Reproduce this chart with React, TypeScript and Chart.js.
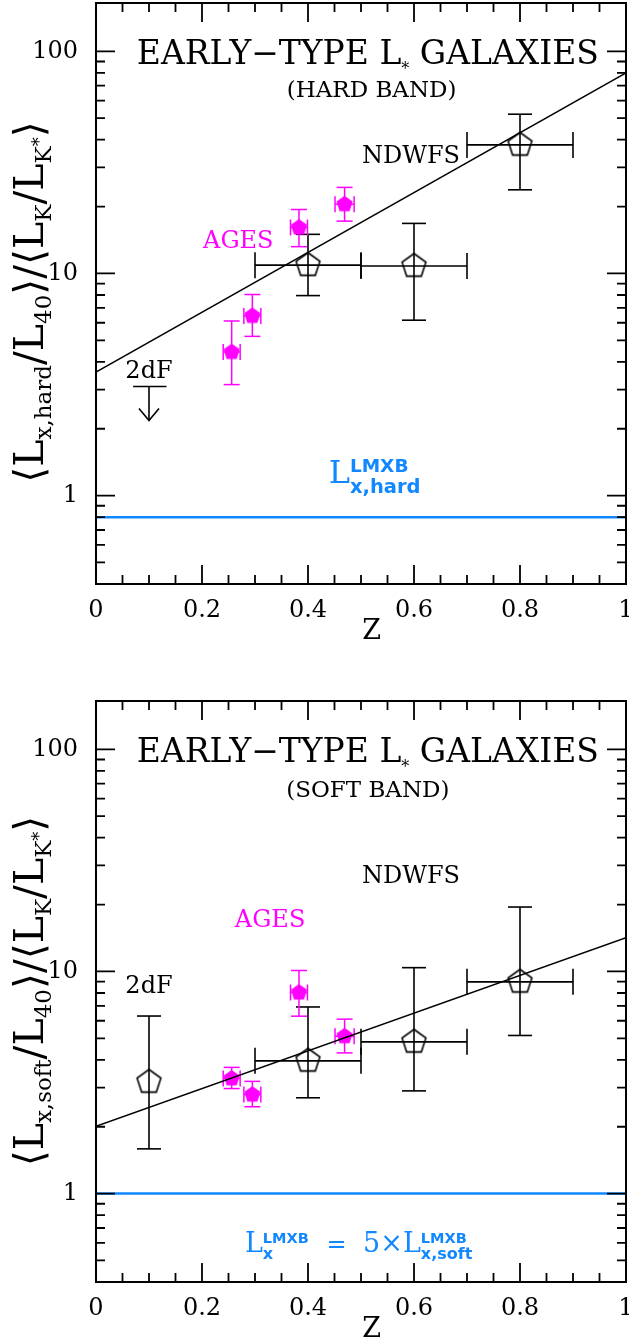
import React, { useEffect, useRef } from "react";
import { Chart, registerables } from "chart.js";

Chart.register(...registerables);

// ---- shared axes -------------------------------------------------------
const Z_MIN = 0;
const Z_MAX = 1;
const RATIO_MIN = 0.4;
const RATIO_MAX = 165;
const Z_TICKS = [0, 0.2, 0.4, 0.6, 0.8, 1];
const Z_TICK_LABELS = ["0", "0.2", "0.4", "0.6", "0.8", "1"];
const RATIO_TICKS = [1, 10, 100];
const RATIO_TICK_LABELS = ["1", "10", "100"];

// ---- AGES redshift bins (both bands) -----------------------------------
const agesZ = [0.256, 0.295, 0.383, 0.469];
const agesZErr = [0.016, 0.016, 0.016, 0.018];

// ---- hard band ---------------------------------------------------------
const hardNdwfsZ = [0.4, 0.6, 0.8];
const hardNdwfsZLow = [0.3, 0.5, 0.7];
const hardNdwfsZHigh = [0.5, 0.7, 0.9];
const hardNdwfsRatio = [10.9, 10.8, 37.9];
const hardNdwfsLow = [7.95, 6.16, 23.8];
const hardNdwfsHigh = [15.0, 16.8, 52.1];

const hardAgesRatio = [4.43, 6.44, 16.1, 20.5];
const hardAgesLow = [3.16, 5.21, 13.2, 17.2];
const hardAgesHigh = [6.11, 8.04, 19.4, 24.4];

// 2dF upper limit in the hard band
const hard2dfZ = [0.1];
const hard2dfZLow = [0.07];
const hard2dfZHigh = [0.133];
const hard2dfLimit = [3.1];
const hard2dfArrowEnd = [2.18];

const fitZ = [0, 1];
const hardFitRatio = [3.6, 80];
const hardLmxb = 0.8;

// ---- soft band ---------------------------------------------------------
const softNdwfsZ = [0.1, 0.4, 0.6, 0.8];
const softNdwfsZLow = [0.1, 0.3, 0.5, 0.7];
const softNdwfsZHigh = [0.1, 0.5, 0.7, 0.9];
const softNdwfsRatio = [3.18, 3.96, 4.82, 8.98];
const softNdwfsLow = [1.59, 2.7, 2.9, 5.15];
const softNdwfsHigh = [6.3, 6.92, 10.4, 19.5];

const softAgesRatio = [3.3, 2.79, 8.04, 5.11];
const softAgesLow = [2.97, 2.46, 6.29, 4.3];
const softAgesHigh = [3.7, 3.2, 10.1, 6.1];

const softFitRatio = [2.01, 14.2];
const softLmxb = 1.0;

// ---- styling -----------------------------------------------------------
const BLACK = "#000000";
const MAGENTA = "#ff00ff";
const BLUE = "#1188ff";
const SERIF = '"DejaVu Serif", "DejaVu Sans", serif';
const SANS = '"DejaVu Sans", sans-serif';

const f = (size: number, family = SERIF, weight = "normal") =>
  `${weight} ${size}px ${family}`;

type Seg = { t: string; font: string; dy?: number; color?: string };
type Stack = { sup: Seg; sub: Seg };
type Item = Seg | Stack;

type Label = {
  z: number;
  v: number;
  align: "left" | "center";
  color: string;
  items: Item[];
};

function segWidth(ctx: CanvasRenderingContext2D, s: Seg) {
  ctx.font = s.font;
  return ctx.measureText(s.t).width;
}

function itemWidth(ctx: CanvasRenderingContext2D, it: Item) {
  if ("sup" in it) return Math.max(segWidth(ctx, it.sup), segWidth(ctx, it.sub));
  return segWidth(ctx, it);
}

function drawItems(
  ctx: CanvasRenderingContext2D,
  items: Item[],
  x: number,
  y: number,
  align: "left" | "center",
  color: string
) {
  const total = items.reduce((a, it) => a + itemWidth(ctx, it), 0);
  let cx = align === "center" ? x - total / 2 : x;
  ctx.textAlign = "left";
  ctx.textBaseline = "alphabetic";
  const put = (s: Seg, px: number) => {
    ctx.font = s.font;
    ctx.fillStyle = s.color || color;
    ctx.fillText(s.t, px, y + (s.dy || 0));
  };
  for (const it of items) {
    const w = itemWidth(ctx, it);
    if ("sup" in it) {
      put(it.sup, cx);
      put(it.sub, cx);
    } else {
      put(it, cx);
    }
    cx += w;
  }
}

function pentagon(r: number, color: string, filled: boolean) {
  const size = Math.ceil(2 * r + 4);
  const c = document.createElement("canvas");
  c.width = size;
  c.height = size;
  const g = c.getContext("2d")!;
  const cx = size / 2;
  const cy = size / 2;
  g.beginPath();
  for (let k = 0; k < 5; k++) {
    const a = -Math.PI / 2 + (k * 2 * Math.PI) / 5;
    const px = cx + r * Math.cos(a);
    const py = cy + r * Math.sin(a);
    if (k === 0) g.moveTo(px, py);
    else g.lineTo(px, py);
  }
  g.closePath();
  if (filled) {
    g.fillStyle = color;
    g.fill();
  } else {
    g.strokeStyle = color;
    g.lineWidth = 1.6;
    g.stroke();
  }
  return c;
}

type ErrSet = {
  z: number[];
  zLow: number[];
  zHigh: number[];
  v: number[];
  low: number[];
  high: number[];
  color: string;
  capY: number;
  capX: number;
  width: number;
};

type Panel = {
  padTop: number;
  xAxisHeight: number;
  yLabelOffset: number;
  ndwfs: ErrSet;
  ages: ErrSet;
  fitRatio: number[];
  lmxb: number;
  limit?: {
    z: number[];
    zLow: number[];
    zHigh: number[];
    v: number[];
    end: number[];
  };
  labels: Label[];
  yLabel: Item[];
};

const big = f(41);
const subF = f(23);
const yLabelFor = (band: string): Item[] => [
  { t: "\u27E8", font: big },
  { t: "L", font: big },
  { t: `x,${band}`, font: subF, dy: 8 },
  { t: "/", font: big },
  { t: "L", font: big },
  { t: "40", font: subF, dy: 8 },
  { t: "\u27E9", font: big },
  { t: "/", font: big },
  { t: "\u27E8", font: big },
  { t: "L", font: big },
  { t: "K", font: subF, dy: 8 },
  { t: "/", font: big },
  { t: "L", font: big },
  { t: "K", font: subF, dy: 8 },
  { t: "*", font: f(18), dy: 2 },
  { t: "\u27E9", font: big },
];

const titleItems: Item[] = [
  { t: "EARLY\u2212TYPE L", font: f(33) },
  { t: "*", font: f(16), dy: 10 },
  { t: " GALAXIES", font: f(33) },
];

const agesSet = (v: number[], low: number[], high: number[]): ErrSet => ({
  z: agesZ,
  zLow: agesZ.map((z, i) => z - agesZErr[i]),
  zHigh: agesZ.map((z, i) => z + agesZErr[i]),
  v,
  low,
  high,
  color: MAGENTA,
  capY: 8,
  capX: 8,
  width: 1.5,
});

const hardPanel: Panel = {
  padTop: 3,
  xAxisHeight: 88,
  yLabelOffset: 299,
  ndwfs: {
    z: hardNdwfsZ,
    zLow: hardNdwfsZLow,
    zHigh: hardNdwfsZHigh,
    v: hardNdwfsRatio,
    low: hardNdwfsLow,
    high: hardNdwfsHigh,
    color: BLACK,
    capY: 12,
    capX: 13,
    width: 1.6,
  },
  ages: agesSet(hardAgesRatio, hardAgesLow, hardAgesHigh),
  fitRatio: hardFitRatio,
  lmxb: hardLmxb,
  limit: {
    z: hard2dfZ,
    zLow: hard2dfZLow,
    zHigh: hard2dfZHigh,
    v: hard2dfLimit,
    end: hard2dfArrowEnd,
  },
  labels: [
    { z: 0.513, v: 88, align: "center", color: BLACK, items: titleItems },
    { z: 0.52, v: 62.3, align: "center", color: BLACK, items: [{ t: "(HARD BAND)", font: f(23) }] },
    { z: 0.502, v: 31.3, align: "left", color: BLACK, items: [{ t: "NDWFS", font: f(24) }] },
    { z: 0.202, v: 13.0, align: "left", color: MAGENTA, items: [{ t: "AGES", font: f(24) }] },
    { z: 0.1, v: 3.37, align: "center", color: BLACK, items: [{ t: "2dF", font: f(24) }] },
    {
      z: 0.439,
      v: 1.14,
      align: "left",
      color: BLUE,
      items: [
        { t: "L", font: f(32) },
        {
          sup: { t: "LMXB", font: f(18.5, SANS, "bold"), dy: -11 },
          sub: { t: "x,hard", font: f(19.5, SANS, "bold"), dy: 10 },
        },
      ],
    },
  ],
  yLabel: yLabelFor("hard"),
};

const softPanel: Panel = {
  padTop: 29,
  xAxisHeight: 62,
  yLabelOffset: 290,
  ndwfs: {
    z: softNdwfsZ,
    zLow: softNdwfsZLow,
    zHigh: softNdwfsZHigh,
    v: softNdwfsRatio,
    low: softNdwfsLow,
    high: softNdwfsHigh,
    color: BLACK,
    capY: 12,
    capX: 13,
    width: 1.6,
  },
  ages: agesSet(softAgesRatio, softAgesLow, softAgesHigh),
  fitRatio: softFitRatio,
  lmxb: softLmxb,
  labels: [
    { z: 0.513, v: 88, align: "center", color: BLACK, items: titleItems },
    { z: 0.513, v: 61.2, align: "center", color: BLACK, items: [{ t: "(SOFT BAND)", font: f(23) }] },
    { z: 0.502, v: 24.9, align: "left", color: BLACK, items: [{ t: "NDWFS", font: f(24) }] },
    { z: 0.262, v: 15.8, align: "left", color: MAGENTA, items: [{ t: "AGES", font: f(24) }] },
    { z: 0.1, v: 7.97, align: "center", color: BLACK, items: [{ t: "2dF", font: f(24) }] },
    {
      z: 0.281,
      v: 0.544,
      align: "left",
      color: BLUE,
      items: [
        { t: "L", font: f(27) },
        {
          sup: { t: "LMXB", font: f(14.5, SANS, "bold"), dy: -9 },
          sub: { t: "x", font: f(16, SANS, "bold"), dy: 7 },
        },
      ],
    },
    { z: 0.435, v: 0.544, align: "left", color: BLUE, items: [{ t: "=", font: f(24) }] },
    {
      z: 0.504,
      v: 0.544,
      align: "left",
      color: BLUE,
      items: [
        { t: "5\u00D7L", font: f(27) },
        {
          sup: { t: "LMXB", font: f(14.5, SANS, "bold"), dy: -9 },
          sub: { t: "x,soft", font: f(16, SANS, "bold"), dy: 7 },
        },
      ],
    },
  ],
  yLabel: yLabelFor("soft"),
};

function decorPlugin(p: Panel) {
  return {
    id: "panelDecor",
    beforeDatasetsDraw(chart: any) {
      const ctx: CanvasRenderingContext2D = chart.ctx;
      const xs = chart.scales.x;
      const ys = chart.scales.y;
      const line = (x1: number, y1: number, x2: number, y2: number) => {
        ctx.beginPath();
        ctx.moveTo(x1, y1);
        ctx.lineTo(x2, y2);
        ctx.stroke();
      };
      const bars = (s: ErrSet) => {
        ctx.strokeStyle = s.color;
        ctx.lineWidth = s.width;
        s.z.forEach((z, i) => {
          const px = xs.getPixelForValue(z);
          const py = ys.getPixelForValue(s.v[i]);
          const pl = ys.getPixelForValue(s.low[i]);
          const ph = ys.getPixelForValue(s.high[i]);
          line(px, pl, px, ph);
          line(px - s.capY, pl, px + s.capY, pl);
          line(px - s.capY, ph, px + s.capY, ph);
          if (s.zHigh[i] > s.zLow[i]) {
            const xl = xs.getPixelForValue(s.zLow[i]);
            const xh = xs.getPixelForValue(s.zHigh[i]);
            line(xl, py, xh, py);
            line(xl, py - s.capX, xl, py + s.capX);
            line(xh, py - s.capX, xh, py + s.capX);
          }
        });
      };
      ctx.save();
      bars(p.ndwfs);
      bars(p.ages);
      if (p.limit) {
        const lim = p.limit;
        ctx.strokeStyle = BLACK;
        ctx.lineWidth = 1.6;
        lim.z.forEach((z, i) => {
          const px = xs.getPixelForValue(z);
          const py = ys.getPixelForValue(lim.v[i]);
          const pe = ys.getPixelForValue(lim.end[i]);
          line(xs.getPixelForValue(lim.zLow[i]), py, xs.getPixelForValue(lim.zHigh[i]), py);
          line(px, py, px, pe);
          ctx.beginPath();
          ctx.moveTo(px - 10, pe - 12);
          ctx.lineTo(px, pe);
          ctx.lineTo(px + 10, pe - 12);
          ctx.stroke();
        });
      }
      ctx.restore();
    },
    afterDraw(chart: any) {
      const ctx: CanvasRenderingContext2D = chart.ctx;
      const xs = chart.scales.x;
      const ys = chart.scales.y;
      const { left, right, top, bottom } = chart.chartArea;
      ctx.save();
      ctx.strokeStyle = BLACK;
      ctx.lineWidth = 2;
      ctx.strokeRect(left, top, right - left, bottom - top);
      ctx.lineWidth = 1.8;
      ctx.beginPath();
      for (let i = 0; i <= 20; i++) {
        const px = xs.getPixelForValue(Z_MIN + (i * (Z_MAX - Z_MIN)) / 20);
        const len = i % 4 === 0 ? 19 : 9;
        ctx.moveTo(px, bottom);
        ctx.lineTo(px, bottom - len);
        ctx.moveTo(px, top);
        ctx.lineTo(px, top + len);
      }
      for (let e = -1; e <= 2; e++) {
        for (let m = 1; m <= 9; m++) {
          const v = m * Math.pow(10, e);
          if (v < RATIO_MIN || v > RATIO_MAX) continue;
          const py = ys.getPixelForValue(v);
          const len = m === 1 ? 19 : 9;
          ctx.moveTo(left, py);
          ctx.lineTo(left + len, py);
          ctx.moveTo(right, py);
          ctx.lineTo(right - len, py);
        }
      }
      ctx.stroke();

      for (const lb of p.labels) {
        drawItems(ctx, lb.items, xs.getPixelForValue(lb.z), ys.getPixelForValue(lb.v), lb.align, lb.color);
      }

      // axis titles
      ctx.fillStyle = BLACK;
      ctx.font = f(27);
      ctx.textAlign = "center";
      ctx.textBaseline = "middle";
      ctx.fillText("Z", xs.getPixelForValue(0.52), bottom + 48);

      ctx.translate(43, top + p.yLabelOffset);
      ctx.rotate(-Math.PI / 2);
      drawItems(ctx, p.yLabel, 0, 0, "center", BLACK);
      ctx.restore();
    },
  };
}

function makeChart(canvas: HTMLCanvasElement, p: Panel) {
  const openPent = pentagon(12.5, BLACK, false);
  const fillPent = pentagon(8.5, MAGENTA, true);
  return new Chart(canvas, {
    type: "scatter",
    data: {
      datasets: [
        {
          type: "line",
          data: fitZ.map((z, i) => ({ x: z, y: p.fitRatio[i] })),
          borderColor: BLACK,
          borderWidth: 1.5,
          pointRadius: 0,
          showLine: true,
          fill: false,
        },
        {
          type: "line",
          data: [Z_MIN, Z_MAX].map((z) => ({ x: z, y: p.lmxb })),
          borderColor: BLUE,
          borderWidth: 2.5,
          pointRadius: 0,
          showLine: true,
          fill: false,
        },
        {
          type: "scatter",
          data: p.ndwfs.z.map((z, i) => ({ x: z, y: p.ndwfs.v[i] })),
          pointStyle: openPent as any,
          pointRadius: 8,
        },
        {
          type: "scatter",
          data: p.ages.z.map((z, i) => ({ x: z, y: p.ages.v[i] })),
          pointStyle: fillPent as any,
          pointRadius: 8,
        },
      ],
    } as any,
    options: {
      responsive: false,
      animation: false,
      events: [],
      layout: { autoPadding: false, padding: { top: p.padTop, right: 3, left: 0, bottom: 0 } },
      plugins: { legend: { display: false }, tooltip: { enabled: false } },
      scales: {
        x: {
          type: "linear",
          min: Z_MIN,
          max: Z_MAX,
          afterBuildTicks: (s: any) => {
            s.ticks = Z_TICKS.map((value) => ({ value }));
          },
          afterFit: (s: any) => {
            s.height = p.xAxisHeight;
            s.paddingLeft = 0;
            s.paddingRight = 0;
          },
          ticks: {
            autoSkip: false,
            maxRotation: 0,
            padding: 12,
            color: BLACK,
            font: { family: SERIF, size: 24 },
            callback: (v: any) => Z_TICK_LABELS[Z_TICKS.indexOf(Number(v))] ?? "",
          },
          grid: { display: false, drawTicks: false },
          border: { display: false },
        },
        y: {
          type: "logarithmic",
          min: RATIO_MIN,
          max: RATIO_MAX,
          afterBuildTicks: (s: any) => {
            s.ticks = RATIO_TICKS.map((value) => ({ value }));
          },
          afterFit: (s: any) => {
            s.width = 96;
            s.paddingTop = 0;
            s.paddingBottom = 0;
          },
          ticks: {
            autoSkip: false,
            padding: 18,
            color: BLACK,
            font: { family: SERIF, size: 24 },
            callback: (v: any) => RATIO_TICK_LABELS[RATIO_TICKS.indexOf(Number(v))] ?? "",
          },
          grid: { display: false, drawTicks: false },
          border: { display: false },
        },
      },
    } as any,
    plugins: [decorPlugin(p) as any],
  });
}

export default function App() {
  const hardRef = useRef<HTMLCanvasElement>(null);
  const softRef = useRef<HTMLCanvasElement>(null);

  useEffect(() => {
    const charts = [makeChart(hardRef.current!, hardPanel), makeChart(softRef.current!, softPanel)];
    return () => charts.forEach((c) => c.destroy());
  }, []);

  return (
    <div style={{ position: "absolute", left: 0, top: 0, width: 629, height: 1344, background: "#ffffff" }}>
      <canvas ref={hardRef} width={629} height={672} style={{ display: "block" }} />
      <canvas ref={softRef} width={629} height={672} style={{ display: "block" }} />
    </div>
  );
}
